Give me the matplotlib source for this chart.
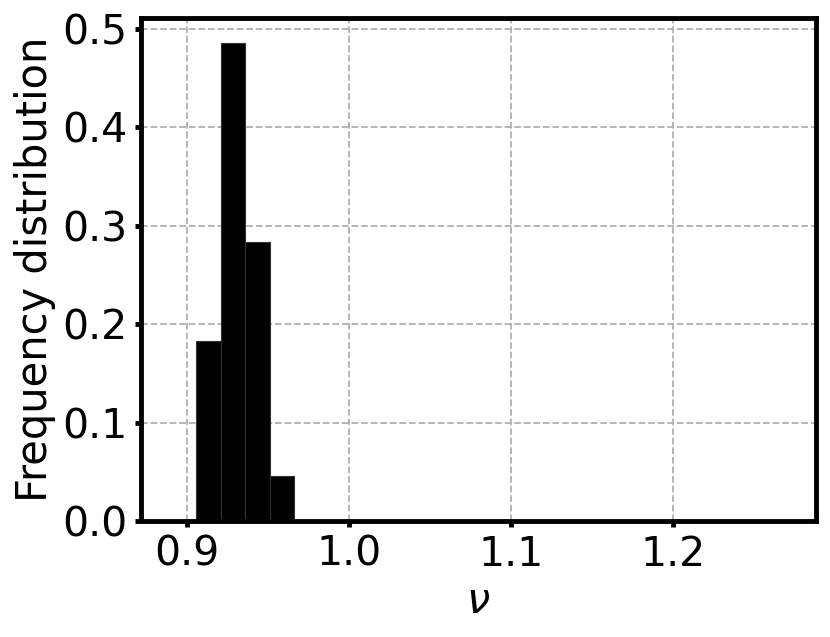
import matplotlib
matplotlib.use("Agg")
import matplotlib.pyplot as plt
import numpy as np

bin_edges = [0.9056, 0.9207, 0.9359, 0.9510, 0.9662]
freqs = [0.183, 0.486, 0.283, 0.046]
xticks = [0.9, 1.0, 1.1, 1.2]
yticks = [0.0, 0.1, 0.2, 0.3, 0.4, 0.5]

fig = plt.figure(figsize=(8.3, 6.37), dpi=100)
ax = fig.add_axes([141/830, 1-521/637, (816-141)/830, (521-18)/637])

centers = [(bin_edges[i] + bin_edges[i+1]) / 2 for i in range(len(freqs))]
ax.hist(centers, bins=bin_edges, weights=freqs, color='black',
        edgecolor='#333333', linewidth=0.8)

ax.set_xlim(0.8716, 1.288)
ax.set_ylim(0, 0.511)
ax.set_xticks(xticks)
ax.set_yticks(yticks)
ax.set_xticklabels([f"{v:.1f}" for v in xticks])
ax.set_yticklabels([f"{v:.1f}" for v in yticks])
ax.set_axisbelow(True)
ax.grid(True, linestyle='--', color='#b0b0b0', linewidth=1.3)

for s in ax.spines.values():
    s.set_linewidth(3.5)
ax.tick_params(axis='both', labelsize=29.5, width=3.5, length=4, pad=6)
ax.set_xlabel(r'$\nu$', fontsize=30)
ax.set_ylabel('Frequency distribution', fontsize=30)

fig.savefig('out.png', dpi=100)
